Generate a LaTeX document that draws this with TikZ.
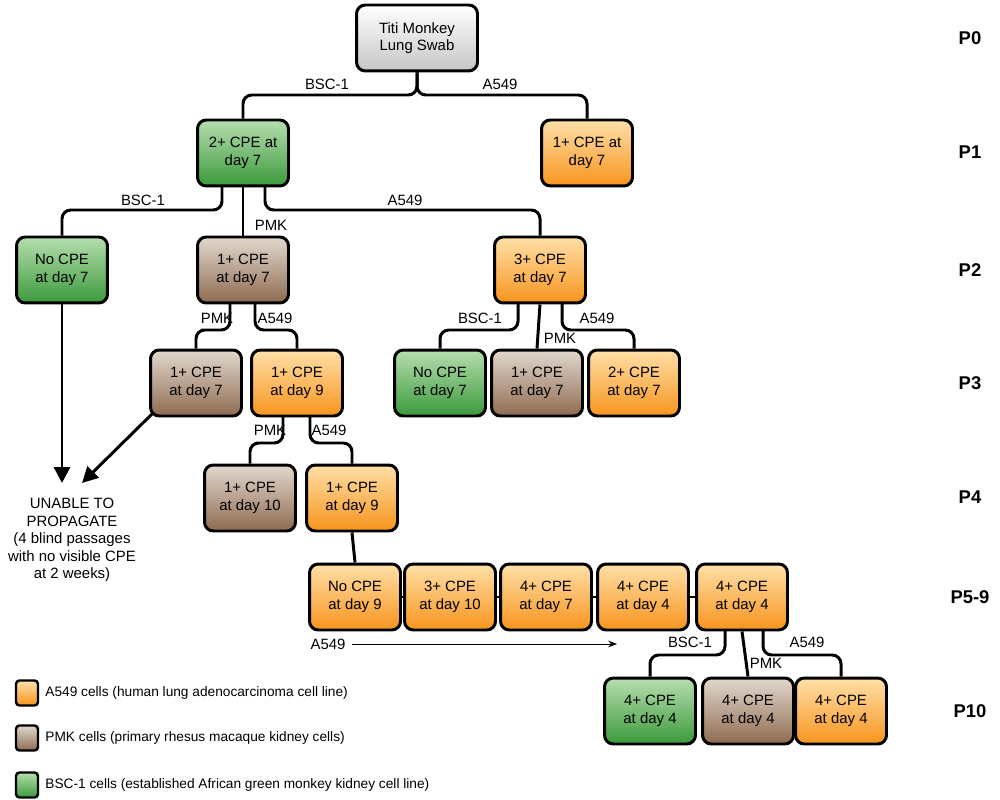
\documentclass[tikz,border=0pt]{standalone}
\usepackage{fontspec}
\setmainfont{Liberation Sans}
\usetikzlibrary{arrows.meta}
\definecolor{orangetop}{HTML}{FFE0A8}
\definecolor{orangebot}{HTML}{F7941D}
\definecolor{greentop}{HTML}{B5DEAE}
\definecolor{greenbot}{HTML}{3C9A3C}
\definecolor{browntop}{HTML}{E2D8CE}
\definecolor{brownbot}{HTML}{8E6B50}
\begin{document}
\begin{tikzpicture}[
		x={(0.02cm,0cm)},
		y={(0cm,-0.02cm)},
		box/.style = {draw, line width=1.7pt, rounded corners=5pt, minimum width=1.82cm, minimum height=1.32cm, align=center, font=\fontsize{8.5}{10}\selectfont},
		a549/.style = {box, top color=orangetop, bottom color=orangebot},
		bsc/.style = {box, top color=greentop, bottom color=greenbot},
		pmk/.style = {box, top color=browntop, bottom color=brownbot},
		link/.style = {line width=1.7pt, rounded corners=5pt},
		lab/.style = {font=\fontsize{8.5}{10}\selectfont},
		pass/.style = {font=\fontsize{10.5}{12}\bfseries\selectfont},
		key/.style = {draw, line width=1.4pt, rounded corners=2pt, minimum width=0.44cm, minimum height=0.5cm}
	]
		\useasboundingbox (0,0) rectangle (1000,800);

		% P0 and P1
		\node [box, top color=white, bottom color=gray!45, minimum width=2.42cm] (swab) at (417,38) {Titi Monkey\\Lung Swab};
		\node [bsc] (pa) at (243,153) {2+ CPE at\\day 7};
		\node [a549] (pb) at (587,153) {1+ CPE at\\day 7};

		% P2
		\node [bsc] (qa) at (62,270) {No CPE\\at day 7};
		\node [pmk] (qb) at (243,270) {1+ CPE\\at day 7};
		\node [a549] (qc) at (540,270) {3+ CPE\\at day 7};

		% P3
		\node [pmk] (ra) at (196,383) {1+ CPE\\at day 7};
		\node [a549] (rb) at (297,383) {1+ CPE\\at day 9};
		\node [bsc] (rc) at (440,383) {No CPE\\at day 7};
		\node [pmk] (rd) at (537,383) {1+ CPE\\at day 7};
		\node [a549] (re) at (634,383) {2+ CPE\\at day 7};

		% P4
		\node [pmk] (sa) at (250,498) {1+ CPE\\at day 10};
		\node [a549] (sb) at (352,498) {1+ CPE\\at day 9};

		% P5-9
		\node [a549] (ta) at (355,597) {No CPE\\at day 9};
		\node [a549] (tb) at (450,597) {3+ CPE\\at day 10};
		\node [a549] (tc) at (546,597) {4+ CPE\\at day 7};
		\node [a549] (td) at (643,597) {4+ CPE\\at day 4};
		\node [a549] (te) at (742,597) {4+ CPE\\at day 4};

		% P10
		\node [bsc] (ua) at (650,711) {4+ CPE\\at day 4};
		\node [pmk] (ub) at (748,711) {4+ CPE\\at day 4};
		\node [a549] (uc) at (841,711) {4+ CPE\\at day 4};

		% forks
		\draw [link] (swab.south) -- (417,95) -| (pa.north);
		\draw [link] (swab.south) -- (417,95) -| (pb.north);
		\draw [link] (222,186) |- (130,210) -| (qa.north);
		\draw [link] (pa.south) -- (qb.north);
		\draw [link] (265,186) |- (400,210) -| (qc.north);
		\draw [link] (230,303) |- (210,330) -| (ra.north);
		\draw [link] (255,303) |- (280,330) -| (rb.north);
		\draw [link] (518,303) |- (480,330) -| (rc.north);
		\draw [link] (qc.south) -- (rd.north);
		\draw [link] (562,303) |- (600,330) -| (re.north);
		\draw [link] (283,416) |- (265,443) -| (sa.north);
		\draw [link] (310,416) |- (330,443) -| (sb.north);
		\draw [link] (sb.south) -- (ta.north);
		\draw [link] (ta) -- (tb) -- (tc) -- (td) -- (te);
		\draw [link] (725,630) |- (700,655) -| (ua.north);
		\draw [link] (te.south) -- (ub.north);
		\draw [link] (763,630) |- (800,655) -| (uc.north);

		\node [lab] at (327,84) {BSC-1};
		\node [lab] at (500,84) {A549};
		\node [lab] at (143,200) {BSC-1};
		\node [lab] at (271,225) {PMK};
		\node [lab] at (405,200) {A549};
		\node [lab] at (217,318) {PMK};
		\node [lab] at (275,318) {A549};
		\node [lab] at (480,318) {BSC-1};
		\node [lab] at (560,338) {PMK};
		\node [lab] at (597,318) {A549};
		\node [lab] at (270,430) {PMK};
		\node [lab] at (329,430) {A549};
		\node [lab] at (690,642) {BSC-1};
		\node [lab] at (766,663) {PMK};
		\node [lab] at (807,642) {A549};

		% dead ends
		\node [lab, align=center] (dead) at (72,540) {UNABLE TO\\PROPAGATE\\(4 blind passages\\with no visible CPE\\at 2 weeks)};
		\draw [line width=1.7pt, -{Triangle[length=9pt,width=9pt]}] (qa.south) -- (62,483);
		\draw [line width=1.7pt, -{Triangle[length=9pt,width=9pt]}] (152,414) -- (82,483);

		\node [lab] (a549label) at (328,644) {A549};
		\draw [-{Stealth[length=5pt]}] (a549label.east) -- (617,644);

		% passages
		\node [pass] at (970,38) {P0};
		\node [pass] at (970,152) {P1};
		\node [pass] at (970,270) {P2};
		\node [pass] at (970,383) {P3};
		\node [pass] at (970,497) {P4};
		\node [pass] at (970,597) {P5-9};
		\node [pass] at (970,711) {P10};

		% key
		\node [key, top color=orangetop, bottom color=orangebot] (ka) at (27,693) {};
		\node [key, top color=browntop, bottom color=brownbot] (kb) at (27,738) {};
		\node [key, top color=greentop, bottom color=greenbot] (kc) at (27,785) {};
		\node [lab, anchor=west, font=\fontsize{7.8}{9}\selectfont] at (ka.east) {A549 cells (human lung adenocarcinoma cell line)};
		\node [lab, anchor=west, font=\fontsize{7.8}{9}\selectfont] at (kb.east) {PMK cells (primary rhesus macaque kidney cells)};
		\node [lab, anchor=west, font=\fontsize{7.8}{9}\selectfont] at (kc.east) {BSC-1 cells (established African green monkey kidney cell line)};
\end{tikzpicture}
\end{document}
